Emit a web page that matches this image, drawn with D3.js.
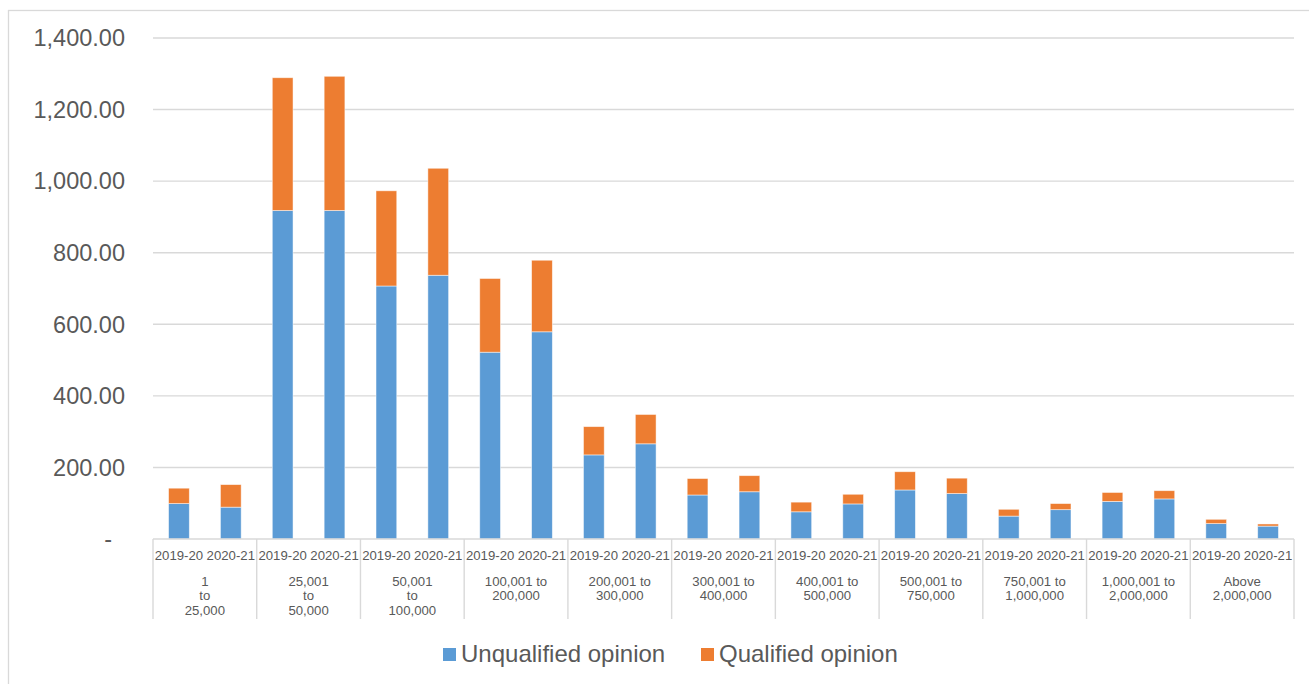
<!DOCTYPE html>
<html>
<head>
<meta charset="utf-8">
<script src="https://cdn.jsdelivr.net/npm/d3@7"></script>
<style>
  html, body { margin: 0; padding: 0; background: #fff; }
  svg { display: block; font-family: "Liberation Sans", Arial, sans-serif; }
</style>
</head>
<body>
<svg id="chart" width="1309" height="684"></svg>
<script>
// Audit opinions by turnover band, two financial years, stacked
const bands = [
  ["1", "to", "25,000"],
  ["25,001", "to", "50,000"],
  ["50,001", "to", "100,000"],
  ["100,001 to", "200,000"],
  ["200,001 to", "300,000"],
  ["300,001 to", "400,000"],
  ["400,001 to", "500,000"],
  ["500,001 to", "750,000"],
  ["750,001 to", "1,000,000"],
  ["1,000,001 to", "2,000,000"],
  ["Above", "2,000,000"]
];
const years = ["2019-20", "2020-21"];
const seriesNames = ["Unqualified opinion", "Qualified opinion"];

const unqualified2019 = [99, 918, 707, 522, 235, 123, 76, 137, 64, 105, 43];
const qualified2019   = [43, 371, 266, 206, 79, 46, 27, 51, 19, 25, 12];
const unqualified2020 = [89, 918, 737, 579, 266, 132, 98, 127, 82, 112, 36];
const qualified2020   = [63, 375, 299, 200, 82, 45, 27, 43, 17, 23, 6];

const yTicks = [0, 200, 400, 600, 800, 1000, 1200, 1400];

const colors = { "Unqualified opinion": "#5B9BD5", "Qualified opinion": "#ED7D31" };
const textColor = "#595959";
const lineColor = "#d9d9d9";

// Flat rows: one per band/year
const rows = [];
bands.forEach((b, i) => {
  rows.push({ band: i, year: years[0], "Unqualified opinion": unqualified2019[i], "Qualified opinion": qualified2019[i] });
  rows.push({ band: i, year: years[1], "Unqualified opinion": unqualified2020[i], "Qualified opinion": qualified2020[i] });
});

const svg = d3.select("#chart");

// Chart frame
svg.append("rect")
  .attr("x", 8.5).attr("y", 10.5)
  .attr("width", 1400).attr("height", 800)
  .attr("fill", "none").attr("stroke", lineColor).attr("stroke-width", 1.3);

const plot = { left: 153, right: 1294, top: 38, bottom: 539 };

const x0 = d3.scaleBand()
  .domain(d3.range(bands.length))
  .range([plot.left, plot.right])
  .padding(0);

const x1 = d3.scaleBand()
  .domain(years)
  .range([0, x0.bandwidth()])
  .paddingInner(0.6)
  .paddingOuter(0.3);

const y = d3.scaleLinear()
  .domain([0, 1400])
  .range([plot.bottom, plot.top]);

// Horizontal gridlines
svg.append("g")
  .selectAll("line")
  .data(yTicks.filter(t => t > 0))
  .join("line")
  .attr("x1", plot.left).attr("x2", plot.right)
  .attr("y1", d => y(d)).attr("y2", d => y(d))
  .attr("stroke", lineColor).attr("stroke-width", 1.4);

// Y-axis labels
const fmt = d3.format(",.2f");
svg.append("g")
  .selectAll("text")
  .data(yTicks)
  .join("text")
  .attr("x", d => d === 0 ? 112 : 125)
  .attr("y", d => y(d))
  .attr("dy", "0.35em")
  .attr("text-anchor", "end")
  .attr("font-size", 23.5)
  .attr("fill", textColor)
  .text(d => d === 0 ? "-" : fmt(d));

// Stacked bars
const stack = d3.stack().keys(seriesNames);
const stacked = stack(rows);

svg.append("g")
  .selectAll("g")
  .data(stacked)
  .join("g")
  .attr("fill", s => colors[s.key])
  .selectAll("rect")
  .data(s => s)
  .join("rect")
  .attr("x", d => x0(d.data.band) + x1(d.data.year))
  .attr("width", x1.bandwidth())
  .attr("y", d => y(d[1]))
  .attr("height", d => y(d[0]) - y(d[1]))
  .attr("stroke", "rgba(255,255,255,0.6)")
  .attr("stroke-width", 0.8);

// Category axis: baseline and band separators
const axis = svg.append("g");
axis.append("line")
  .attr("x1", plot.left).attr("x2", plot.right)
  .attr("y1", plot.bottom).attr("y2", plot.bottom)
  .attr("stroke", lineColor).attr("stroke-width", 1.4);

const boundaries = d3.range(bands.length).map(i => x0(i)).concat([x0(bands.length - 1) + x0.bandwidth()]);
axis.selectAll("line.sep")
  .data(boundaries)
  .join("line")
  .attr("class", "sep")
  .attr("x1", d => d).attr("x2", d => d)
  .attr("y1", plot.bottom).attr("y2", 619)
  .attr("stroke", lineColor).attr("stroke-width", 1.4);

// Year labels
axis.selectAll("text.year")
  .data(rows)
  .join("text")
  .attr("class", "year")
  .attr("x", d => x0(d.band) + x1(d.year) + x1.bandwidth() / 2)
  .attr("y", 555)
  .attr("dy", "0.35em")
  .attr("text-anchor", "middle")
  .attr("font-size", 13.2)
  .attr("fill", textColor)
  .text(d => d.year);

// Band labels (multi-line)
const bandLabels = axis.selectAll("text.band")
  .data(bands)
  .join("text")
  .attr("class", "band")
  .attr("text-anchor", "middle")
  .attr("font-size", 13.2)
  .attr("fill", textColor);

bandLabels.selectAll("tspan")
  .data((lines, i) => lines.map(l => ({ l, i })))
  .join("tspan")
  .attr("x", d => x0(d.i) + x0.bandwidth() / 2)
  .attr("y", (d, j) => 581 + j * 14.7)
  .attr("dy", "0.35em")
  .text(d => d.l);

// Legend
const legendPos = [443, 701];
const legend = svg.append("g")
  .selectAll("g")
  .data(seriesNames)
  .join("g")
  .attr("transform", (d, i) => `translate(${legendPos[i]},648)`);

legend.append("rect")
  .attr("width", 13).attr("height", 13)
  .attr("fill", d => colors[d]);

legend.append("text")
  .attr("x", 18).attr("y", 6)
  .attr("dy", "0.35em")
  .attr("font-size", 24)
  .attr("fill", textColor)
  .text(d => d);
</script>
</body>
</html>
